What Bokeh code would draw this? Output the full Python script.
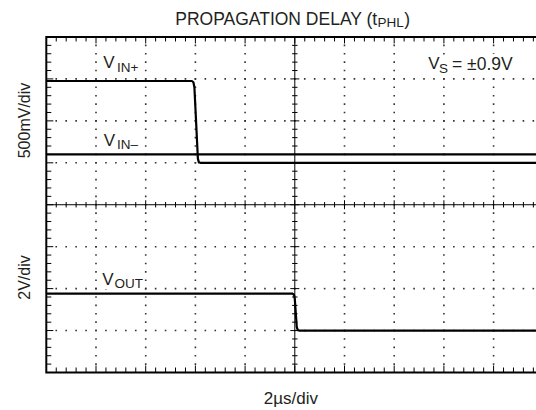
import numpy as np
from bokeh.plotting import figure
from bokeh.models import Label, Range1d
from bokeh.embed import file_html
from bokeh.resources import INLINE

# ---- data: time in microseconds (2 us/div), levels in screen divisions (8 div tall) ----
t_vin_plus = [0.0, 5.86, 5.92, 5.96, 6.10, 6.14, 6.20, 19.8]
v_vin_plus = [6.95, 6.95, 6.92, 6.80, 5.10, 5.01, 5.00, 5.00]
t_vin_minus = [0.0, 19.8]
v_vin_minus = [5.20, 5.20]
t_vout = [0.0, 9.92, 9.97, 10.00, 10.08, 10.12, 10.18, 19.8]
v_vout = [1.88, 1.88, 1.85, 1.75, 1.08, 1.01, 1.00, 1.00]

x_div = 2.0          # us per division
n_xdiv = 10
n_ydiv = 8
title_main = "PROPAGATION DELAY (t"
title_sub = "PHL"
ylabel_top = "500mV/div"
ylabel_bot = "2V/div"
xlabel = "2\u00b5s/div"

# ---- layout (pixels); the frame covers the whole canvas ----
W, H = 536, 408
PXX = 24.85   # px per us
PXY = 41.94   # px per division
X_ORG, Y_ORG = 45.8, 372.0   # pixel of (t=0, level=0)
x0 = -X_ORG / PXX
x1 = x0 + W / PXX
y0 = -(H - Y_ORG) / PXY
y1 = y0 + H / PXY

def dx(px):
    return x0 + px / PXX

def dy(py):
    return y1 - py / PXY

p = figure(width=W, height=H, output_backend="svg", toolbar_location=None,
           x_range=Range1d(x0, x1), y_range=Range1d(y0, y1),
           x_axis_type=None, y_axis_type=None,
           min_border_left=0, min_border_right=0, min_border_top=0, min_border_bottom=0)
p.grid.visible = False
p.outline_line_color = None
p.background_fill_color = "white"
p.border_fill_color = "white"

xmax = n_xdiv * x_div
# dotted graticule
gx, gy = [], []
for k in range(1, n_xdiv):
    if k == n_xdiv // 2:
        continue
    for j in range(1, n_ydiv * 5):
        gx.append(k * x_div); gy.append(j * 0.2)
for k in range(1, n_ydiv):
    if k == n_ydiv // 2:
        continue
    for j in range(1, n_xdiv * 5):
        gx.append(j * x_div / 5); gy.append(k)
p.scatter(gx, gy, marker="square", size=1.6, color="#333333", line_color=None)

# center lines
p.segment([xmax / 2], [0], [xmax / 2], [n_ydiv], line_color="black", line_width=1)
p.segment([0], [n_ydiv / 2], [xmax], [n_ydiv / 2], line_color="black", line_width=1)

# ticks
sx0, sy0, sx1, sy1 = [], [], [], []
for j in range(1, n_xdiv * 5):
    x = j * x_div / 5
    major = (j % 5 == 0)
    L = (6.5 if major else 4.5) / PXY
    sx0.append(x); sy0.append(n_ydiv); sx1.append(x); sy1.append(n_ydiv - L)
    L = (7.0 if major else 5.0) / PXY
    sx0.append(x); sy0.append(0); sx1.append(x); sy1.append(L)
    L = (4.5 if major else 2.7) / PXY
    sx0.append(x); sy0.append(n_ydiv / 2 - L); sx1.append(x); sy1.append(n_ydiv / 2 + L)
for j in range(1, n_ydiv * 5):
    y = j * 0.2
    major = (j % 5 == 0)
    L = (7.0 if major else 5.0) / PXX
    sx0.append(0); sy0.append(y); sx1.append(L); sy1.append(y)
    L = (4.5 if major else 2.7) / PXX
    sx0.append(xmax / 2 - L); sy0.append(y); sx1.append(xmax / 2 + L); sy1.append(y)
p.segment(sx0, sy0, sx1, sy1, line_color="black", line_width=1)

# frame border (left, top, bottom; right side runs off the page)
p.line([xmax, 0, 0, xmax], [n_ydiv, n_ydiv, 0, 0], line_color="black", line_width=2,
       line_join="miter")

# signals
for t, v in ((t_vin_plus, v_vin_plus), (t_vin_minus, v_vin_minus), (t_vout, v_vout)):
    p.line(t, v, line_color="black", line_width=2.2, line_join="round")

FONT = "Liberation Sans"
TC = "#231f20"

def lab(px, py, text, size, bg=None, **kw):
    p.add_layout(Label(x=dx(px), y=dy(py), text=text, text_font=FONT,
                       text_font_size=f"{size}px", text_color=TC,
                       background_fill_color=bg,
                       text_baseline=kw.pop("baseline", "alphabetic"),
                       text_align=kw.pop("align", "left"), **kw))

# title: main part right-aligned so the subscript joins it exactly
S1, S2 = 17.5, 13.5
tj = 377.0
lab(tj, 18.5, title_main, S1, align="right")
lab(tj, 21.8, title_sub, S2)
lab(tj + 1.945 * S2 + 0.5, 18.5, ")", S1)

# channel labels (white behind, so the graticule dots do not show through)
M, SB = 17, 13.5
BG = "white"
lab(102.7, 62.3, "V", M, BG); lab(116.5, 66.7, "IN+", SB, BG)
lab(103.3, 140.0, "V", M, BG); lab(116.5, 144.0, "IN\u2013", SB, BG)
lab(101.7, 279.0, "V", M, BG); lab(114.0, 283.3, "OUT", SB, BG)
lab(427.7, 63.3, "V", M, BG); lab(438.6, 67.8, "S", SB, BG)
lab(451.5, 63.3, "= \u00b10.9V", 17.5, BG)

# axis labels
lab(24, 120, ylabel_top, 16, angle=np.pi / 2, align="center", baseline="middle")
lab(24, 277, ylabel_bot, 16, angle=np.pi / 2, align="center", baseline="middle")
lab(290.4, 398, xlabel, 17, align="center")

open("out.html", "w").write(file_html(p, INLINE))
